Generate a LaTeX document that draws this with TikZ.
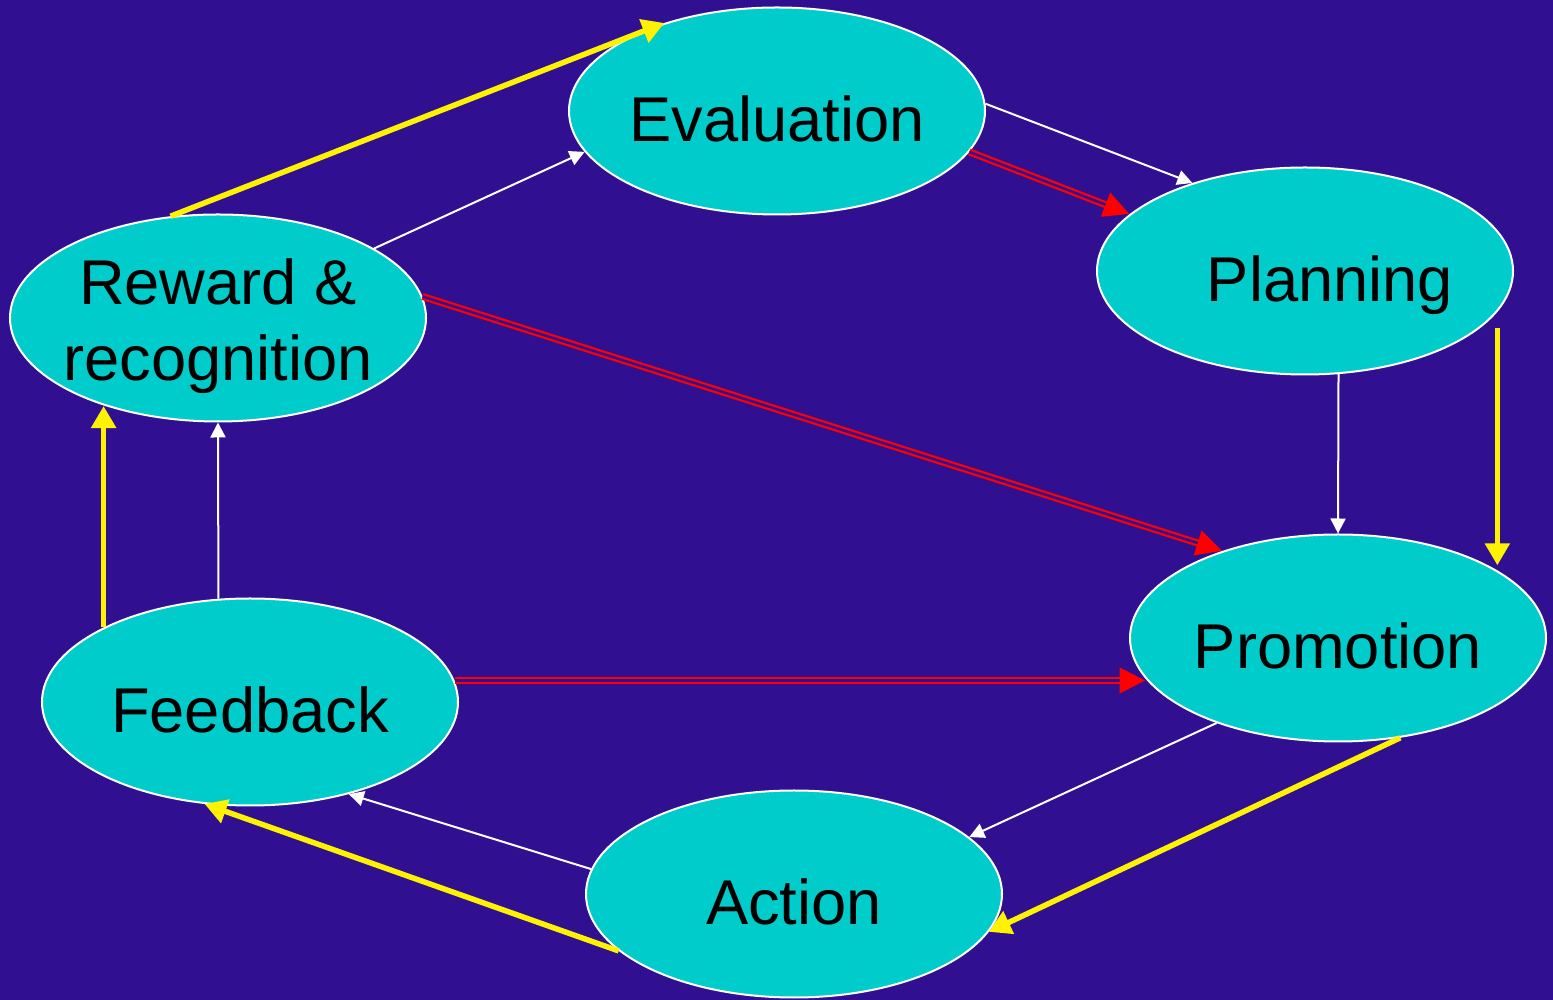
\documentclass[tikz,border=0pt]{standalone}
\usepackage{fontspec}
\setmainfont{Liberation Sans}
\usetikzlibrary{shapes.geometric,arrows.meta}

\definecolor{bgblue}{RGB}{48,16,144}
\definecolor{stagecyan}{RGB}{0,204,204}

\begin{document}
\begin{tikzpicture}[x=1cm, y=-1cm,
    stage/.style={ellipse, draw=white, line width=0.02cm, fill=stagecyan,
      minimum width=4.16cm, minimum height=2.07cm, inner sep=-0.1cm,
      text height=0.62cm, text depth=0pt,
      font=\fontsize{18}{21.5}\selectfont, align=center},
    thinarrow/.style={draw=white, line width=0.02cm,
      -{Triangle[length=0.15cm, width=0.15cm]}},
    cyclearrow/.style={draw=yellow, line width=0.055cm,
      -{Triangle[length=0.22cm, width=0.24cm]}},
    redarrow/.style={draw=red, line width=0.07cm,
      -{Triangle[length=0.26cm, width=0.24cm]},
      postaction={draw=bgblue, line width=0.025cm, arrows=-, shorten >=0.26cm}}]
  \useasboundingbox (0,0) rectangle (15.53,10);
  \fill[bgblue] (-0.05,-0.05) rectangle (15.6,10.05);

  % the six stages
  \node[stage] (eval)     at (7.77,1.11) {Evaluation};
  \node[stage] (plan)     at (13.05,2.71) {\hspace*{0.5cm}Planning};
  \node[stage] (promo)    at (13.38,6.38) {Promotion};
  \node[stage] (action)   at (7.94,8.94) {Action};
  \node[stage] (feedback) at (2.50,7.02) {Feedback};
  \node[stage, text height=, text depth=] (reward) at (2.18,3.18)
    {\rule{0pt}{0.62cm}Reward \&\\recognition};

  % white cycle
  \draw[thinarrow] (reward.24) -- (eval.192);
  \draw[thinarrow] (eval.2) -- (plan.142);
  \draw[thinarrow] (plan.-72) -- (promo.north);
  \draw[thinarrow] (promo.215) -- (action.18);
  \draw[thinarrow] (action.173) -- (feedback.-43);
  \draw[thinarrow] (feedback.107) -- (reward.south);

  % yellow cycle
  \draw[cyclearrow] (reward.115) -- (eval.142);
  \draw[cyclearrow, shorten <=0.16cm, shorten >=0.07cm] (plan.-12) -- (plan.-12 |- promo.22);
  \draw[cyclearrow] (promo.-58) -- (action.-11);
  \draw[cyclearrow] (action.198) -- (feedback.246);
  \draw[cyclearrow] (feedback.153) -- (feedback.153 |- reward.218);

  % red links
  \draw[redarrow] (eval.-12) -- (plan.162);
  \draw[redarrow] (reward.6) -- (promo.143);
  \draw[redarrow] (feedback.6) -- (feedback.6 -| promo.192);
\end{tikzpicture}
\end{document}
